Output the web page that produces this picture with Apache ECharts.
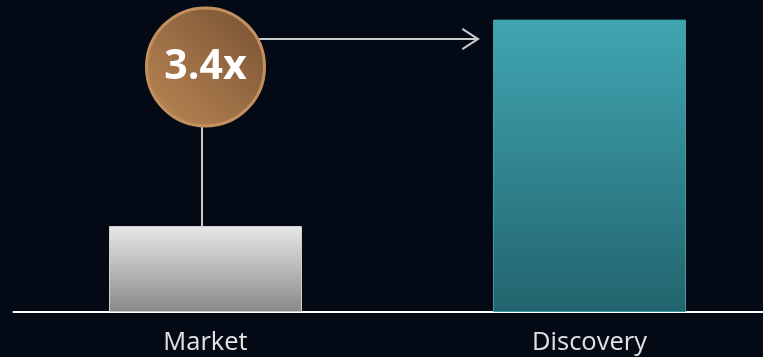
<!DOCTYPE html>
<html>
<head>
<meta charset="utf-8">
<style>
  html, body { margin: 0; padding: 0; background: #040a15; }
  #chart { width: 763px; height: 357px; }
</style>
<script src="https://cdn.jsdelivr.net/npm/echarts@6/dist/echarts.min.js"></script>
</head>
<body>
<div id="chart"></div>
<script>
// Two groups compared, with the multiple between them called out
const categories = ['Market', 'Discovery'];
const values = [1, 3.4];

// Layout of the call-out, in axis units
const BADGE_Y = 2.85;      // centre of the ratio badge
const ARROW_Y = 3.1744;    // height of the arrow to the taller bar
const ARROW_END_X = 0.691; // where the arrow stops, before the taller bar
const STEM_X = -0.0091;    // stem from the short bar up to the badge

const ratioText = (values[1] / values[0]).toFixed(1) + 'x';

const barStyles = [
  {
    color: new echarts.graphic.LinearGradient(0, 0, 0, 1, [
      { offset: 0, color: '#e8e8e8' },
      { offset: 1, color: '#898989' }
    ]),
    borderColor: '#cfcfcf',
    borderWidth: 1
  },
  {
    color: new echarts.graphic.LinearGradient(0, 0, 0, 1, [
      { offset: 0, color: '#40a6b2' },
      { offset: 1, color: '#22646d' }
    ]),
    borderColor: '#3c9ca7',
    borderWidth: 1
  }
];

// open chevron, tip pointing up, with a stub of shaft to the tip
const chevron = 'path://M0,17 L11,0 L22,17 L20.3,18 L11,3.8 L1.7,18 Z M10,1 L12,1 L12,18 L10,18 Z';

const chart = echarts.init(document.getElementById('chart'), null, { renderer: 'canvas' });

chart.setOption({
  backgroundColor: '#040a15',
  animation: false,
  grid: {
    left: 13.5, width: 768, top: 2.4, bottom: 45,
    containLabel: false,
    outerBoundsMode: 'none'
  },
  xAxis: [
    {
      type: 'category',
      data: categories,
      axisLine: { show: true, lineStyle: { color: '#ffffff', width: 2 } },
      axisTick: { show: false },
      axisLabel: {
        color: '#e2e2e2',
        fontFamily: 'Open Sans',
        fontSize: 25.5,
        margin: 18
      },
      splitLine: { show: false }
    },
    {
      type: 'value',
      min: -0.5,
      max: 1.5,
      show: false
    }
  ],
  yAxis: {
    type: 'value',
    min: 0,
    max: 3.6,
    show: false,
    splitLine: { show: false }
  },
  series: [
    {
      type: 'bar',
      xAxisIndex: 0,
      barWidth: 193,
      data: values.map((v, i) => ({ value: v, itemStyle: barStyles[i] })),
      z: 2
    },
    {
      // stem and arrow of the call-out
      type: 'line',
      xAxisIndex: 1,
      data: [],
      silent: true,
      markLine: {
        silent: true,
        animation: false,
        label: { show: false },
        lineStyle: { color: '#cbcbcb', width: 2, type: 'solid' },
        data: [
          [
            { coord: [STEM_X, values[0]], symbol: 'none' },
            { coord: [STEM_X, BADGE_Y], symbol: 'none' }
          ],
          [
            { coord: [0, ARROW_Y], symbol: 'none' },
            { coord: [ARROW_END_X, ARROW_Y], symbol: chevron, symbolSize: [22, 18] }
          ]
        ]
      },
      z: 3
    },
    {
      // ratio badge
      type: 'scatter',
      xAxisIndex: 1,
      data: [[0, BADGE_Y]],
      symbol: 'circle',
      symbolSize: 118,
      itemStyle: {
        opacity: 1,
        color: new echarts.graphic.LinearGradient(1, 0, 0, 1, [
          { offset: 0, color: '#765032' },
          { offset: 1, color: '#bd8955' }
        ]),
        borderColor: '#c3905d',
        borderWidth: 3
      },
      label: {
        show: true,
        position: 'inside',
        formatter: ratioText,
        color: '#ffffff',
        fontFamily: 'Open Sans',
        fontWeight: 'bold',
        fontSize: 41
      },
      emphasis: { disabled: true },
      z: 5
    }
  ]
});
</script>
</body>
</html>
